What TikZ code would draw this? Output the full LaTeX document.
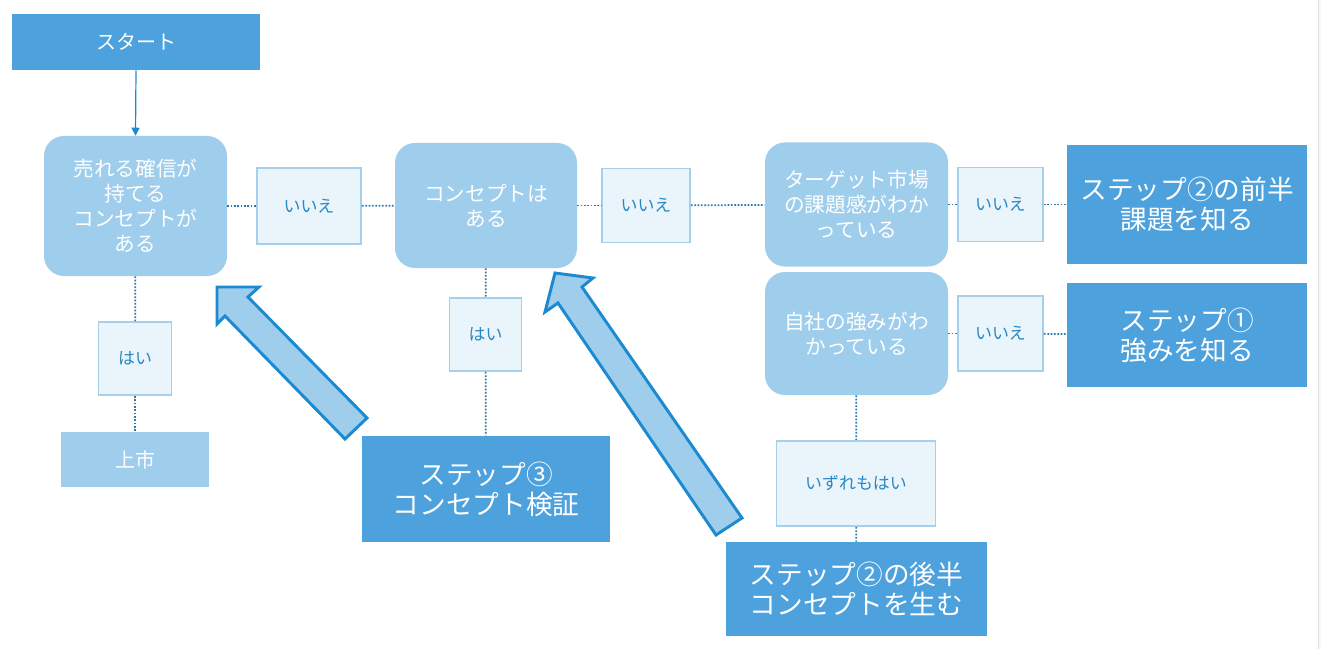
\documentclass[tikz,border=0pt]{standalone}
\usepackage{fontspec}
\setmainfont{Noto Sans CJK JP}
\usetikzlibrary{arrows.meta}
\definecolor{darkb}{HTML}{4DA1DD}
\definecolor{lightb}{HTML}{9FCDEC}
\definecolor{labfill}{HTML}{EAF4FB}
\definecolor{labline}{HTML}{A6CFEC}
\definecolor{labtext}{HTML}{2888C5}
\definecolor{dotcol}{HTML}{2A78AE}
\definecolor{arrline}{HTML}{1B8AD1}
\begin{document}
\begin{tikzpicture}[x=0.75pt,y=-0.75pt,
  sz/.style 2 args={minimum width=#1*0.75pt, minimum height=#2*0.75pt},
  darkbox/.style={rectangle, fill=darkb, text=white, inner sep=0pt, align=center,
    font=\fontsize{20}{22.5}\selectfont},
  startbox/.style={rectangle, fill=darkb, text=white, inner sep=0pt, align=center,
    font=\fontsize{15}{18}\selectfont},
  decbox/.style={rectangle, rounded corners=15pt, fill=lightb, text=white, inner sep=0pt,
    align=center, font=\fontsize{15.5}{18.75}\selectfont},
  endbox/.style={rectangle, fill=lightb, text=white, inner sep=0pt, align=center,
    font=\fontsize{15}{18}\selectfont},
  labbox/.style={rectangle, fill=labfill, draw=labline, line width=1.4pt, text=labtext,
    inner sep=0pt, align=center, font=\fontsize{12.7}{15}\selectfont},
  dotline/.style={draw=dotcol, line width=1.3pt, dash pattern=on 1.3pt off 1.2pt},
  bigarrow/.style={fill=lightb, draw=arrline, line width=2.2pt, line join=miter},
  startarrow/.style={draw=arrline, line width=0.9pt, -{Triangle[length=6pt,width=6pt]}}
]
\useasboundingbox (0,0) rectangle (1321,649);
\fill[white] (0,0) rectangle (1321,649);
\fill[black!3] (1319,0) rectangle (1321,649);
\draw[black!12, line width=0.75pt] (1318.5,0) -- (1318.5,649);

% nodes
\node[startbox, sz={248}{56}] (start) at (136,42) {スタート};
\node[decbox, sz={183}{140}] (A) at (135.5,206) {売れる確信が\\持てる\\コンセプトが\\ある};
\node[labbox, sz={104}{76}] (no1) at (309,206) {いいえ};
\node[decbox, sz={182}{125}] (B) at (486,205.5) {コンセプトは\\ある};
\node[labbox, sz={88}{74}] (no2) at (646,205.5) {いいえ};
\node[decbox, sz={183}{124}] (C) at (856.5,204.5) {ターゲット市場\\の課題感がわか\\っている};
\node[labbox, sz={85}{74}] (no3) at (1000.5,204.5) {いいえ};
\node[darkbox, sz={240}{119}] (s2a) at (1187,204.5) {ステップ②の前半\\課題を知る};
\node[decbox, sz={183}{123}] (D) at (856.5,333.5) {自社の強みがわ\\かっている};
\node[labbox, sz={85}{75}] (no4) at (1000.5,333.5) {いいえ};
\node[darkbox, sz={240}{104}] (s1) at (1187,335) {ステップ①\\強みを知る};
\node[labbox, sz={159}{85}] (yes3) at (856,483.5) {いずれもはい};
\node[darkbox, sz={261}{94}] (s2b) at (856.5,589) {ステップ②の後半\\コンセプトを生む};
\node[labbox, sz={73}{73}] (yes1) at (135,358.5) {はい};
\node[endbox, sz={148}{55}] (jo) at (135,459.5) {上市};
\node[labbox, sz={72}{73}] (yes2) at (485.5,334.5) {はい};
\node[darkbox, sz={248}{106}] (s3) at (486,489) {ステップ③\\コンセプト検証};

% connectors
\draw[startarrow] (start.south) -- (A.north);
\draw[dotline] (A) -- (no1);
\draw[dotline] (no1) -- (B);
\draw[dotline] (B) -- (no2);
\draw[dotline] (no2) -- (C);
\draw[dotline] (C) -- (no3);
\draw[dotline] (no3) -- (s2a);
\draw[dotline] (D) -- (no4);
\draw[dotline] (no4) -- (s1);
\draw[dotline] (D) -- (yes3);
\draw[dotline] (yes3) -- (s2b);
\draw[dotline] (A) -- (yes1);
\draw[dotline] (yes1) -- (jo);
\draw[dotline] (B) -- (yes2);
\draw[dotline] (yes2) -- (s3);

% big pointer arrows
\draw[bigarrow] (217,287) -- (259,287) -- (248,297) -- (367,418) -- (345,439)
  -- (225,316) -- (217,324) -- cycle;
\draw[bigarrow] (555,273) -- (593,278) -- (582,287) -- (742,518) -- (716,535)
  -- (558,303) -- (545,312) -- cycle;
\end{tikzpicture}
\end{document}
